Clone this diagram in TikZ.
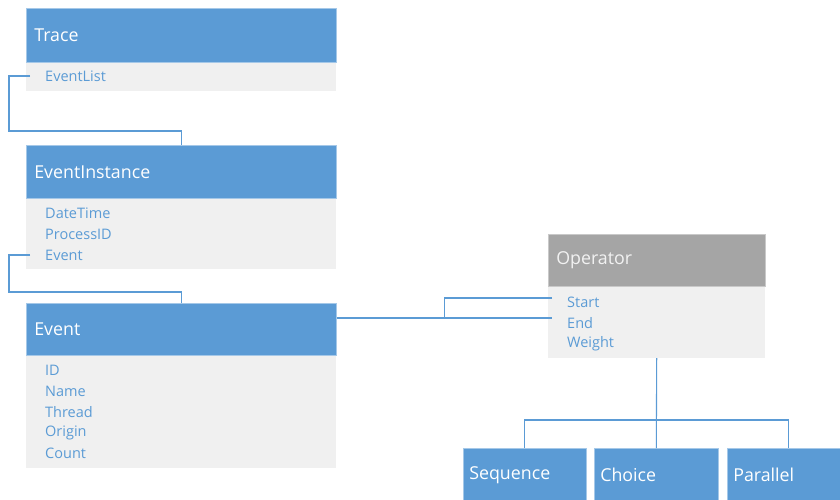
\documentclass[tikz,border=0pt]{standalone}
\usepackage{fontspec}
\setmainfont{Open Sans}
\usetikzlibrary{calc}
\definecolor{hdrblue}{HTML}{5B9BD5}
\definecolor{hdrgray}{HTML}{A5A5A5}
\definecolor{bodyfill}{HTML}{F0F0F0}
\definecolor{itemblue}{HTML}{5B9BD5}
\begin{document}
\begin{tikzpicture}[x=1pt,y=-1pt,
  hdr/.style={anchor=north west, fill=hdrblue, draw=hdrblue!55!white, line width=0.6pt,
    text=white, font=\fontsize{17.8}{20}\selectfont, align=left, inner xsep=8pt,
    minimum width=310pt, text width=294pt},
  body/.style={anchor=north west, fill=bodyfill, draw=none, minimum width=310pt},
  item/.style={anchor=west, inner sep=0pt, text=itemblue, font=\fontsize{14.5}{16}\selectfont},
  kind/.style={anchor=north west, fill=hdrblue, draw=hdrblue!55!white, line width=0.6pt,
    text=white, font=\fontsize{17.8}{20}\selectfont, align=left, inner xsep=6pt,
    minimum height=54pt},
  link/.style={draw=hdrblue, line width=1.1pt}]
\useasboundingbox (0,0) rectangle (840,500);
\clip (0,0) rectangle (840,500);

% Trace
\node[hdr, minimum height=54pt] (trace) at (26,8) {Trace};
\node[body, minimum height=28pt] (tracebody) at (trace.south west) {};
\node[item] (evlist) at (45,76) {EventList};

% EventInstance
\node[hdr, minimum height=53pt] (einst) at (26,145) {EventInstance};
\node[body, minimum height=70pt] (einstbody) at (einst.south west) {};
\node[item] (dtime) at (45,213) {DateTime};
\node[item] (procid) at (45,234) {ProcessID};
\node[item] (evref) at (45,255) {Event};

% Event
\node[hdr, minimum height=52pt] (event) at (26,303) {Event};
\node[body, minimum height=112pt] (eventbody) at (event.south west) {};
\node[item] (eid) at (45,370) {ID};
\node[item] (ename) at (45,391) {Name};
\node[item] (ethread) at (45,412) {Thread};
\node[item] (eorigin) at (45,433) {Origin};
\node[item] (ecount) at (45,453) {Count};

% Operator
\node[hdr, fill=hdrgray, draw=hdrgray!60!white, minimum width=217pt, text width=201pt,
  minimum height=52pt, text=white!95!black] (op) at (548,234) {Operator};
\node[body, minimum width=217pt, minimum height=71pt] (opbody) at (op.south west) {};
\node[item] (ostart) at (567,302) {Start};
\node[item] (oend) at (567,323) {End};
\node[item] (oweight) at (567,344) {Weight};

% Operator kinds
\node[kind, minimum width=123pt, text width=111pt] (seq) at (463,448) {Sequence};
\node[kind, minimum width=124pt, text width=112pt] (choice) at (594,448) {Choice};
\node[kind, minimum width=123pt, text width=111pt] (par) at (727,448) {Parallel};

% Connectors
\draw[link] ([xshift=-15pt]evlist.west) -| (9,131) -| (einst.north);
\draw[link] ([xshift=-15pt]evref.west) -| (9,292) -| (event.north);

\coordinate (startpt) at ([xshift=-15pt,yshift=4pt]ostart.west);
\coordinate (endpt) at ([xshift=-15pt,yshift=5pt]oend.west);
\draw[link] (event.east |- endpt) -- (endpt);
\draw[link] (startpt) -| ($(event.east |- endpt)!0.5!(endpt)$);

\coordinate (fork) at (opbody.south |- 0,420);
\draw[link] (opbody.south) -- (choice.north);
\draw[link] (seq.north) |- (fork) -| (par.north);
\end{tikzpicture}
\end{document}
